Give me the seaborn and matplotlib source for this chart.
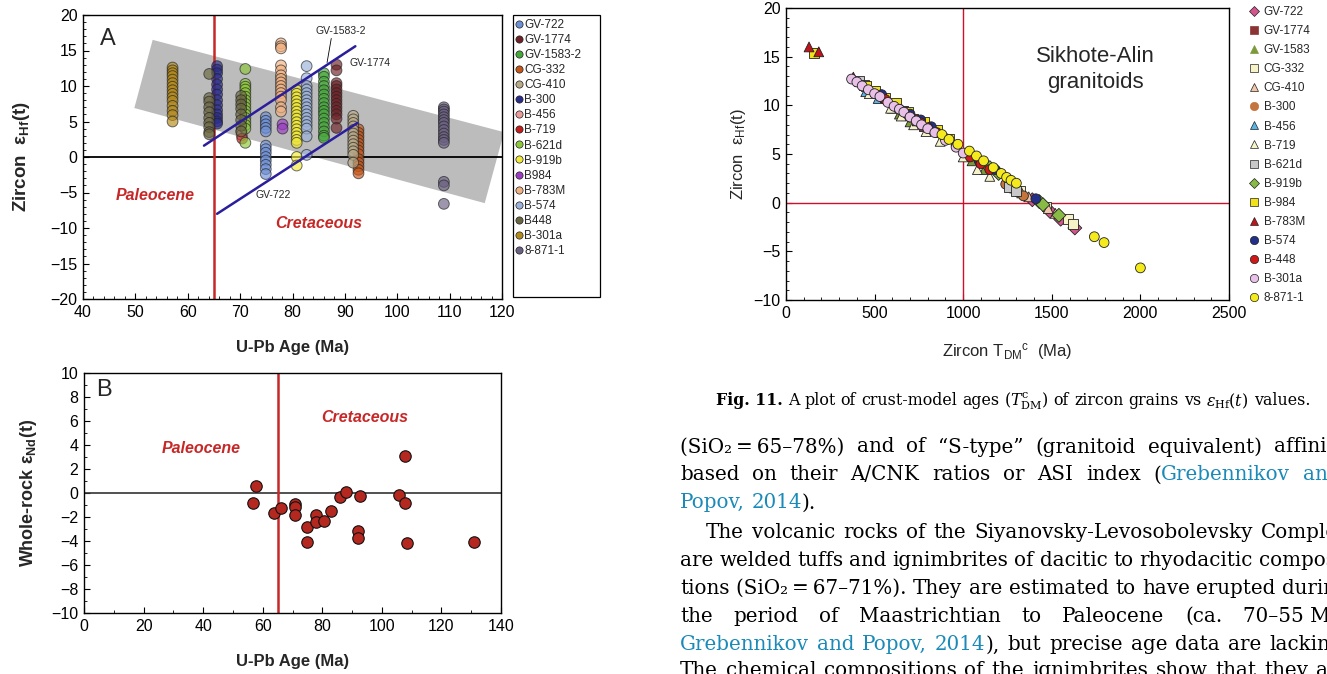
import numpy as np
import pandas as pd
import matplotlib
matplotlib.use("Agg")
import matplotlib.pyplot as plt
import seaborn as sns
from matplotlib.lines import Line2D
from matplotlib.patches import Polygon, Rectangle
from matplotlib.ticker import MultipleLocator

# ------------------------------------------------------------------ data
# Panel A : zircon eHf(t) vs U-Pb age
a_samples = ["GV-722", "GV-1774", "GV-1583-2", "CG-332", "CG-410", "B-300", "B-456", "B-719",
             "B-621d", "B-919b", "B984", "B-783M", "B-574", "B448", "B-301a", "8-871-1"]
a_colors = ["#6d8fd6", "#6e2226", "#46a83a", "#c4561a", "#b9aa88", "#2a2c8c", "#ec9c9c", "#c41c1c",
            "#8cc83a", "#f2ea36", "#9a3cc4", "#f2b282", "#9cb2da", "#6a6642", "#b48a1a", "#6a6082"]
a_age = {
    "GV-722": [74.9], "GV-1774": [88.4], "GV-1583-2": [86.0], "CG-332": [92.6], "CG-410": [91.6],
    "B-300": [65.6], "B-456": [70.3], "B-719": [70.4], "B-621d": [71.0], "B-919b": [80.8],
    "B984": [78.1], "B-783M": [77.8], "B-574": [82.7],
    "B448": [64.1, 64.1, 64.1, 64.1, 64.1, 64.1, 64.1, 64.1, 64.1, 64.1,
             70.2, 70.2, 70.2, 70.2, 70.2, 70.2, 70.2, 70.2],
    "B-301a": [57.1], "8-871-1": [108.9],
}
a_ehf = {
    "GV-722": [5.6, 5.1, 4.6, 4.1, 3.6, 1.6, 1.1, 0.6, 0.0, -0.5, -1.1, -1.7, -2.4],
    "GV-1774": [13.0, 12.2, 10.4, 10.0, 9.5, 9.0, 8.5, 8.0, 7.5, 7.0, 6.5, 6.0, 5.4, 4.1],
    "GV-1583-2": [11.8, 11.3, 10.6, 10.0, 9.4, 8.8, 8.2, 7.6, 7.0, 6.5, 6.0, 5.4, 4.8, 4.2, 3.6, 3.0, 2.7],
    "CG-332": [3.9, 3.4, 2.9, 2.4, 1.9, 1.4, 0.9, 0.4, -0.3, -0.8, -1.3, -1.8, -2.3],
    "CG-410": [5.8, 5.3, 4.8, 4.3, 3.8, 3.3, 2.8, 2.3, 1.8, 1.3, 0.8, 0.3, -0.8],
    "B-300": [12.8, 12.3, 11.8, 11.0, 10.2, 9.5, 8.8, 8.0, 7.3, 6.6, 6.0, 5.5, 5.0, 4.7],
    "B-456": [3.6, 3.1],
    "B-719": [2.6],
    "B-621d": [12.4, 10.3, 9.9, 9.5, 9.0, 8.5, 8.0, 7.5, 7.0, 6.5, 6.0, 5.5, 5.0, 4.5, 4.0, 2.0],
    "B-919b": [9.4, 8.9, 8.4, 7.9, 7.4, 6.9, 6.4, 5.9, 5.4, 4.9, 4.4, 3.9, 3.4, 2.9, 2.4, 2.0, 0.0, -1.2],
    "B984": [4.6, 4.0],
    "B-783M": [16.0, 15.6, 15.3, 12.9, 12.2, 11.5, 11.0, 10.5, 10.0, 9.5, 9.0, 8.5, 8.0, 7.0, 6.4],
    "B-574": [12.8, 11.1, 10.0, 9.5, 9.0, 8.5, 8.0, 7.5, 7.0, 6.5, 6.0, 5.5, 5.0, 4.5, 4.0, 2.9, 0.3],
    "B448": [11.7, 8.3, 7.8, 7.0, 6.3, 5.5, 4.8, 4.2, 3.5, 3.2,
             8.6, 8.0, 7.4, 6.8, 6.0, 5.2, 4.4, 3.6],
    "B-301a": [12.6, 12.2, 11.8, 11.4, 10.9, 10.4, 9.9, 9.4, 8.9, 8.4, 7.9, 7.2, 6.5, 5.9, 5.0],
    "8-871-1": [7.0, 6.7, 6.4, 6.0, 5.6, 5.2, 4.8, 4.3, 3.8, 3.3, 2.8, 2.4, 2.0, -3.5, -4.0, -6.6],
}
# grey trend band and the two blue reference lines in panel A
band_x = [53.3, 120.4, 116.7, 49.8]
band_y = [16.5, 3.5, -6.5, 6.9]
line_upper_x = [63.1, 92.0]
line_upper_y = [1.6, 15.6]
line_lower_x = [65.6, 92.4]
line_lower_y = [-8.0, 4.8]
boundary_age = 65

# Panel B : whole-rock eNd(t) vs U-Pb age
b_age = [57.9, 56.8, 63.7, 66.0, 70.7, 70.7, 70.7, 74.9, 74.9, 77.9, 77.9, 80.7, 83.0,
         85.8, 88.0, 92.5, 91.9, 91.9, 105.6, 107.9, 107.9, 108.5, 131.1]
b_end = [0.6, -0.8, -1.7, -1.25, -0.9, -1.15, -1.8, -2.85, -4.05, -1.85, -2.45, -2.35, -1.5,
         -0.35, 0.05, -0.25, -3.15, -3.75, -0.2, 3.05, -0.85, -4.2, -4.05]

# Panel C : eHf(t) vs crustal model age TDM^c
c_samples = ["GV-722", "GV-1774", "GV-1583", "CG-332", "CG-410", "B-300", "B-456", "B-719",
             "B-621d", "B-919b", "B-984", "B-783M", "B-574", "B-448", "B-301a", "8-871-1"]
c_colors = ["#d4558e", "#8b3434", "#7d9a3a", "#f7f3c6", "#f2c6a6", "#c4743c", "#5ab4e6", "#f6f3ca",
            "#c8c8c8", "#88bb44", "#f2e21c", "#c0141c", "#23308a", "#d01818", "#e8c0e8", "#f4ea1c"]
c_markers = ["D", "s", "^", "s", "^", "o", "^", "^", "s", "D", "s", "^", "o", "o", "o", "o"]
c_tdm = {
    "GV-722": [1390, 1490, 1550, 1630],
    "GV-1774": [660, 720, 780],
    "GV-1583": [640, 700, 1050, 1120],
    "CG-332": [1320, 1470, 1590, 1620],
    "CG-410": [1290, 1330, 1370, 1480, 1520],
    "B-300": [1240, 1340],
    "B-456": [450, 520, 600],
    "B-719": [470, 590, 650, 720, 790, 870, 1000, 1080, 1150],
    "B-621d": [410, 440, 1260, 1300],
    "B-919b": [1150, 1200, 1430, 1450, 1540],
    "B-984": [160, 450, 500, 560, 620, 690, 780, 850, 920],
    "B-783M": [130, 185, 380, 560, 740],
    "B-574": [540, 700, 760, 820, 1090, 1180, 1410],
    "B-448": [560, 640, 700, 760, 800, 850, 900, 960, 1040, 1100, 1150],
    "B-301a": [370, 400, 430, 465, 500, 530, 575, 610, 640, 665, 700, 735, 765, 800, 840, 900, 960, 1000],
    "8-871-1": [880, 920, 970, 1035, 1075, 1115, 1170, 1215, 1245, 1270, 1300, 1740, 1795, 2000],
}
c_ehf = {
    "GV-722": [0.3, -0.9, -1.7, -2.6],
    "GV-1774": [9.4, 8.6, 7.9],
    "GV-1583": [9.1, 8.3, 4.3, 3.4],
    "CG-332": [1.2, -0.4, -1.7, -2.2],
    "CG-410": [1.5, 1.0, 0.6, -0.6, -1.1],
    "B-300": [1.9, 0.7],
    "B-456": [11.4, 10.7, 9.7],
    "B-719": [11.2, 9.7, 8.9, 8.0, 7.3, 6.3, 4.7, 3.4, 2.7],
    "B-621d": [12.5, 12.1, 1.6, 1.2],
    "B-919b": [3.6, 3.0, 0.1, -0.2, -1.3],
    "B-984": [15.4, 12.0, 11.5, 10.8, 10.2, 9.3, 8.3, 7.5, 6.6],
    "B-783M": [16.0, 15.5, 12.9, 10.8, 8.4],
    "B-574": [11.1, 9.1, 8.5, 7.8, 4.3, 3.4, 0.4],
    "B-448": [10.6, 9.6, 8.8, 8.2, 7.7, 7.2, 6.6, 5.9, 4.7, 4.0, 3.4],
    "B-301a": [12.7, 12.4, 12.0, 11.6, 11.2, 10.9, 10.3, 9.9, 9.6, 9.3, 8.8, 8.4, 8.0, 7.6, 7.2, 6.4, 5.7, 5.1],
    "8-871-1": [7.0, 6.5, 6.0, 5.3, 4.8, 4.3, 3.6, 3.0, 2.6, 2.3, 2.0, -3.5, -4.1, -6.7],
}
c_ref_tdm = 1000

# ------------------------------------------------------------------ style
sns.set_style("ticks")
plt.rcParams["font.family"] = ["Liberation Sans", "DejaVu Sans"]
plt.rcParams["mathtext.fontset"] = "custom"
plt.rcParams["mathtext.rm"] = "DejaVu Serif"
plt.rcParams["mathtext.it"] = "DejaVu Serif:italic"
plt.rcParams["mathtext.bf"] = "Liberation Sans:bold"
plt.rcParams["mathtext.sf"] = "Liberation Sans"

W, H = 1327, 674
fig = plt.figure(figsize=(W / 100, H / 100), dpi=100)
fig.patch.set_facecolor("white")


def fbox(l, t, r, b):
    return [l / W, 1 - b / H, (r - l) / W, (b - t) / H]


RED = "#c62828"


def style_axes(ax, fs):
    for s in ax.spines.values():
        s.set_linewidth(1.0)
        s.set_color("black")
        s.set_visible(True)
    ax.tick_params(which="both", direction="in", top=False, right=False, colors="black")
    ax.tick_params(which="major", length=4, labelsize=fs, pad=4)
    ax.tick_params(which="minor", length=2.5)


# ------------------------------------------------------------------ panel A
axA = fig.add_axes(fbox(83, 15, 502, 299))
rows = []
for s in a_samples:
    ys = a_ehf[s]
    xs = a_age[s] if len(a_age[s]) == len(ys) else a_age[s] * len(ys)
    for x, y in zip(xs, ys):
        rows.append((s, x, y))
dfA = pd.DataFrame(rows, columns=["sample", "age", "ehf"])
axA.add_patch(Polygon(np.column_stack([band_x, band_y]), closed=True, fc="#bcbcbc", ec="none", zorder=1))
axA.axhline(0, color="black", lw=1.3, zorder=2)
axA.axvline(boundary_age, color=RED, lw=1.8, zorder=2)
sns.scatterplot(data=dfA, x="age", y="ehf", hue="sample", palette=dict(zip(a_samples, a_colors)),
                s=60, edgecolor="#222222", linewidth=0.7, alpha=0.66, legend=False, ax=axA, zorder=3)
axA.plot(line_upper_x, line_upper_y, color="#2a1e9c", lw=1.8, zorder=4)
axA.plot(line_lower_x, line_lower_y, color="#2a1e9c", lw=1.8, zorder=4)
axA.set_xlim(40, 120)
axA.set_ylim(-20, 20)
axA.xaxis.set_major_locator(MultipleLocator(10))
axA.xaxis.set_minor_locator(MultipleLocator(2))
axA.yaxis.set_major_locator(MultipleLocator(5))
axA.yaxis.set_minor_locator(MultipleLocator(1))
style_axes(axA, 11.5)
axA.set_xlabel("U-Pb Age (Ma)", fontsize=12, fontweight="bold", labelpad=15)
axA.set_ylabel("Zircon  ε$_{\\mathbf{Hf}}$(t)", fontsize=13.5, fontweight="bold", labelpad=13)
axA.text(0.04, 0.955, "A", transform=axA.transAxes, fontsize=17, va="top", ha="left")
axA.text(84.3, 17.7, "GV-1583-2", fontsize=7.5, ha="left", va="center")
axA.plot([87.4, 86.6], [16.7, 13.3], color="black", lw=0.6)
axA.text(90.8, 13.2, "GV-1774", fontsize=7.5, ha="left", va="center")
axA.text(73.0, -5.3, "GV-722", fontsize=7.5, ha="left", va="center")
axA.text(53.8, -5.4, "Paleocene", fontsize=11.5, color=RED, fontweight="bold", style="italic", ha="center", va="center")
axA.text(85.1, -9.3, "Cretaceous", fontsize=11.5, color=RED, fontweight="bold", style="italic", ha="center", va="center")

handlesA = [Line2D([], [], marker="o", ls="none", markersize=5.2, markerfacecolor=c, markeredgecolor="#222222",
                   markeredgewidth=0.5, label=s) for s, c in zip(a_samples, a_colors)]
fig.legend(handles=handlesA, loc="upper left", bbox_to_anchor=(516 / W, 1 - 19 / H), frameon=False,
           fontsize=8.5, handlelength=0.5, handletextpad=0.2, labelspacing=0.26, borderaxespad=0, borderpad=0)
fig.patches.append(Rectangle((513 / W, 1 - 297 / H), 87 / W, 282 / H, transform=fig.transFigure,
                             fill=False, ec="black", lw=0.9))

# ------------------------------------------------------------------ panel B
axB = fig.add_axes(fbox(84, 373, 501, 613))
dfB = pd.DataFrame({"age": b_age, "end": b_end})
axB.axhline(0, color="#333333", lw=1.2, zorder=1)
axB.axvline(boundary_age, color=RED, lw=1.8, zorder=1)
sns.scatterplot(data=dfB, x="age", y="end", s=68, color="#b42820", edgecolor="#111111", linewidth=0.8,
                ax=axB, zorder=3, legend=False)
axB.set_xlim(0, 140)
axB.set_ylim(-10, 10)
axB.xaxis.set_major_locator(MultipleLocator(20))
axB.xaxis.set_minor_locator(MultipleLocator(10))
axB.yaxis.set_major_locator(MultipleLocator(2))
axB.yaxis.set_minor_locator(MultipleLocator(1))
style_axes(axB, 11.5)
axB.set_xlabel("U-Pb Age (Ma)", fontsize=12, fontweight="bold", labelpad=15)
axB.set_ylabel("Whole-rock ε$_{\\mathbf{Nd}}$(t)", fontsize=13, fontweight="bold", labelpad=9)
axB.text(0.03, 0.975, "B", transform=axB.transAxes, fontsize=17, va="top", ha="left")
axB.text(39.4, 3.67, "Paleocene", fontsize=11.5, color=RED, fontweight="bold", style="italic", ha="center", va="center")
axB.text(94.4, 6.25, "Cretaceous", fontsize=11.5, color=RED, fontweight="bold", style="italic", ha="center", va="center")

# ------------------------------------------------------------------ panel C
axC = fig.add_axes(fbox(786, 8, 1229, 300))
rows = []
for s in c_samples:
    for x, y in zip(c_tdm[s], c_ehf[s]):
        rows.append((s, x, y))
dfC = pd.DataFrame(rows, columns=["sample", "tdm", "ehf"])
axC.axhline(0, color="#d0102a", lw=1.0, zorder=1)
axC.axvline(c_ref_tdm, color="#d0102a", lw=1.0, zorder=1)
sns.scatterplot(data=dfC, x="tdm", y="ehf", hue="sample", style="sample",
                palette=dict(zip(c_samples, c_colors)), markers=dict(zip(c_samples, c_markers)),
                hue_order=c_samples, style_order=c_samples,
                s=50, edgecolor="#222222", linewidth=0.6, legend=False, ax=axC, zorder=3)
axC.set_xlim(0, 2500)
axC.set_ylim(-10, 20)
axC.xaxis.set_major_locator(MultipleLocator(500))
axC.xaxis.set_minor_locator(MultipleLocator(100))
axC.yaxis.set_major_locator(MultipleLocator(5))
axC.yaxis.set_minor_locator(MultipleLocator(1))
style_axes(axC, 11.5)
axC.set_xlabel("Zircon T$_{\\mathsf{DM}}$$^{\\mathsf{c}}$  (Ma)", fontsize=12, labelpad=15)
axC.set_ylabel("Zircon  ε$_{\\mathsf{Hf}}$(t)", fontsize=12, labelpad=4)
axC.text(1744, 13.7, "Sikhote-Alin\ngranitoids", fontsize=16, ha="center", va="center", linespacing=1.3)

handlesC = [Line2D([], [], marker=m, ls="none", markersize=6 if m != "D" else 4.8, markerfacecolor=c,
                   markeredgecolor="#222222" if s not in ("GV-1774", "B-300", "GV-1583") else c,
                   markeredgewidth=0.5, label=s) for s, c, m in zip(c_samples, c_colors, c_markers)]
fig.legend(handles=handlesC, loc="upper left", bbox_to_anchor=(1250 / W, 1 - 6 / H), frameon=False,
           fontsize=8.5, handlelength=0.7, handletextpad=0.45, labelspacing=0.60, borderaxespad=0, borderpad=0)

# ------------------------------------------------------------------ caption and body text
BLUE = "#1a8ab8"
BODY_FONT = "DejaVu Serif"
K = "black"
renderer = fig.canvas.get_renderer()


def make_groups(segs):
    """segs: list of (text, colour, weight); a segment that does not start with a space is glued
    to the previous word."""
    groups = []
    for text, col, wt in segs:
        parts = text.split(" ")
        for i, p in enumerate(parts):
            if not p:
                continue
            if i == 0 and groups and not text.startswith(" "):
                groups[-1].append((p, col, wt))
            else:
                groups.append([(p, col, wt)])
    return groups


def space_px(fs):
    return 0.318 * fs * 100 / 72


def natural_width(groups, fs):
    total = 0
    for grp in groups:
        for w, c, wt in grp:
            t = fig.text(0, 0, w, fontsize=fs, family=BODY_FONT, fontweight=wt)
            total += t.get_window_extent(renderer).width
            t.remove()
    return total + space_px(fs) * (len(groups) - 1)


def place(groups, fs, y, x0, x1=None):
    texts, widths = [], []
    for grp in groups:
        parts, wsum = [], 0
        for w, c, wt in grp:
            t = fig.text(0, 1 - y / H, w, color=c, fontsize=fs, family=BODY_FONT, fontweight=wt,
                         ha="left", va="center")
            bw = t.get_window_extent(renderer).width
            parts.append((t, bw))
            wsum += bw
        texts.append(parts)
        widths.append(wsum)
    gap = space_px(fs)
    if x1 is not None and len(groups) > 1:
        gap = max((x1 - x0 - sum(widths)) / (len(groups) - 1), 0.55 * space_px(fs))
    x = x0
    for parts, wd in zip(texts, widths):
        xx = x
        for t, bw in parts:
            t.set_x(xx / W)
            xx += bw
        x += wd + gap


cap_segs = [("Fig.\u00a011.", K, "bold"), (" A plot of crust-model ages", K, "normal"),
            (" ($T^{\\mathrm{c}}_{\\mathrm{DM}}$)", K, "normal"), (" of zircon grains vs", K, "normal"),
            (" $\\varepsilon_{\\mathrm{Hf}}(t)$", K, "normal"), (" values.", K, "normal")]
cap_groups = make_groups(cap_segs)
fs_cap = 10.0 * (1313 - 716) / natural_width(cap_groups, 10.0)
place(cap_groups, fs_cap, 401, 716)

body = [
    (447, 680, 1346, [("(SiO\u2082\u2009=\u200965\u201378%) and of \u201cS-type\u201d (granitoid equivalent) affinity", K, "normal")]),
    (475, 680, 1340, [("based on their A/CNK ratios or ASI index (", K, "normal"), ("Grebennikov and", BLUE, "normal")]),
    (503, 680, None, [("Popov, 2014", BLUE, "normal"), (").", K, "normal")]),
    (532, 706, 1349, [("The volcanic rocks of the Siyanovsky-Levosobolevsky Complex", K, "normal")]),
    (560, 680, 1349, [("are welded tuffs and ignimbrites of dacitic to rhyodacitic composi-", K, "normal")]),
    (588, 680, 1349, [("tions (SiO\u2082\u2009=\u200967\u201371%). They are estimated to have erupted during", K, "normal")]),
    (616, 680, 1349, [("the period of Maastrichtian to Paleocene (ca. 70\u201355\u00a0Ma;", K, "normal")]),
    (645, 680, 1349, [("Grebennikov and Popov, 2014", BLUE, "normal"), ("), but precise age data are lacking.", K, "normal")]),
    (671, 680, 1349, [("The chemical compositions of the ignimbrites show that they are", K, "normal")]),
]
ref_groups = make_groups(body[4][3])
fs_body = 12.0 * (1349 - 680) / natural_width(ref_groups, 12.0)
for y, x0, x1, segs in body:
    place(make_groups(segs), fs_body, y, x0, x1)

fig.savefig("out.png", dpi=100)
